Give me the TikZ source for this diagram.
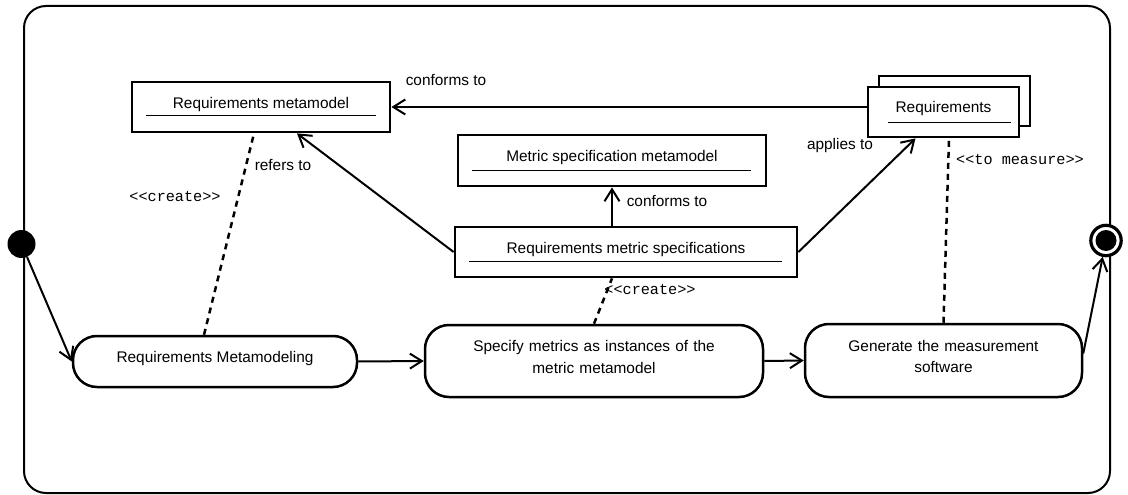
\documentclass[tikz,border=0pt]{standalone}
\usepackage{fontspec}
\setmainfont{Liberation Sans}
\setmonofont{Liberation Mono}
\usetikzlibrary{arrows.meta,calc}
\begin{document}
\begin{tikzpicture}[x=1pt,y=-1pt,
  every node/.style={font=\fontsize{15.4}{21.6}\selectfont},
  cls/.style={draw, line width=2.8pt, fill=white, inner sep=0pt, text height=7pt, text depth=5pt},
  act/.style={draw, line width=2.5pt, rounded corners=24pt, fill=white, inner sep=0pt},
  conn/.style={line width=2pt, -{Straight Barb[length=12pt,width=15pt]}},
  dep/.style={line width=2.5pt, dash pattern=on 6pt off 5pt},
  lab/.style={inner sep=0pt},
  mono/.style={inner sep=0pt, font=\ttfamily\fontsize{15.2}{18}\selectfont},
  uline/.style={line width=1pt}]
\useasboundingbox (0,0) rectangle (1128,495);
% frame
\draw[line width=2pt, rounded corners=22pt] (24,6) rectangle (1110,493);
% initial and final states
\node[circle, fill=black, minimum size=28pt, inner sep=0pt] (start) at (21.5,244) {};
\node[circle, draw, line width=3.2pt, fill=white, minimum size=30.4pt, inner sep=0pt,
  path picture={\fill[black] (path picture bounding box.center) circle[radius=10.5pt];}] (final) at (1106,240.5) {};
% class boxes
\node[cls, minimum width=258pt, minimum height=50pt] (rmm) at (261,107) {Requirements metamodel};
\draw[uline] ($(rmm.center)+(-115,8.5)$) -- ($(rmm.center)+(115,8.5)$);
\node[cls, minimum width=151pt, minimum height=50pt] (reqback) at (954.5,101) {};
\node[cls, minimum width=151pt, minimum height=50pt] (req) at (943.5,112) {Requirements};
\draw[uline] ($(req.center)+(-56,10)$) -- ($(req.center)+(67,10)$);
\node[cls, minimum width=308pt, minimum height=51pt] (msm) at (612,160.5) {Metric specification metamodel};
\draw[uline] ($(msm.center)+(-140,9.5)$) -- ($(msm.center)+(139,9.5)$);
\node[cls, minimum width=342pt, minimum height=50pt] (rms) at (626,252) {Requirements metric specifications};
\draw[uline] ($(rms.center)+(-157,9)$) -- ($(rms.center)+(156,9)$);
% activities
\node[act, minimum width=284pt, minimum height=51pt, text height=7pt, text depth=5pt] (rm) at (215,361.5) {Requirements Metamodeling};
\node[act, minimum width=338pt, minimum height=72pt, text width=300pt, align=center, text height=7pt, text depth=25.6pt] (spec) at (594,361) {Specify metrics as instances of the\\metric metamodel};
\node[act, minimum width=277pt, minimum height=73pt, text width=250pt, align=center, text height=7pt, text depth=25.6pt] (gen) at (943.5,360.5) {Generate the measurement\\software};
% transitions
\draw[conn] (start) -- (rm.west);
\draw[conn] (rm.east) -- (spec.west);
\draw[conn] (spec.east) -- (gen.west);
\coordinate (genout) at ($(gen.east)+(0,-7)$);
\draw[conn] (genout) -- (final);
% associations
\draw[conn] (req.west |- rmm.east) -- (rmm.east);
\coordinate (rmmin) at ($(rmm.south)+(36,0)$);
\draw[conn] (rms.west) -- (rmmin);
\draw[conn] (msm.south |- rms.north) -- (msm.south);
\coordinate (reqin) at ($(req.south)+(-28,0)$);
\draw[conn] (rms.east) -- (reqin);
% dependencies
\coordinate (rmtop) at ($(rm.north)+(-11,0)$);
\coordinate (rmmbot) at ($(rmm.south)+(-7,0)$);
\draw[dep] (rmtop) -- (rmmbot);
\coordinate (rmsbot) at ($(rms.south)+(-14,0)$);
\draw[dep] (spec.north) -- (rmsbot);
\coordinate (reqbot) at ($(req.south)+(5.5,0)$);
\draw[dep] (gen.north) -- (reqbot);
% labels
\node[lab] (l1) at (446,80) {conforms to};
\node[lab] (l2) at (667,201) {conforms to};
\node[lab] (l3) at (840,146) {applies to};
\node[lab] (l4) at (283,165) {refers to};
\node[mono] (l5) at (175,197) {{<}{<}create{>}{>}};
\node[mono] (l6) at (650,290) {{<}{<}create{>}{>}};
\node[mono] (l7) at (1020,160) {{<}{<}to measure{>}{>}};
\end{tikzpicture}
\end{document}
